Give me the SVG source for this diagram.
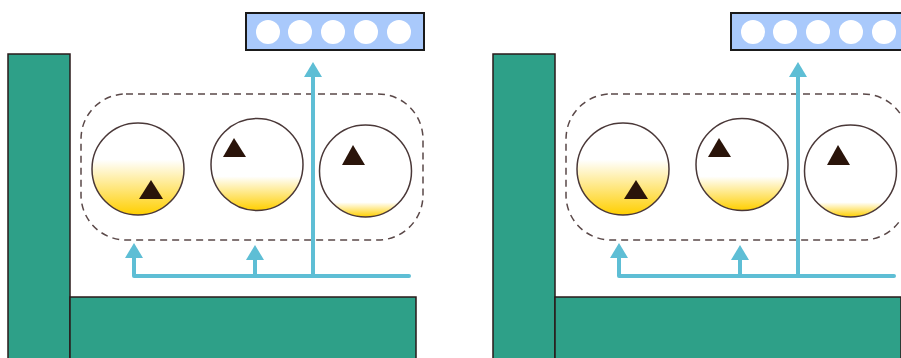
<svg xmlns="http://www.w3.org/2000/svg" width="901" height="358" viewBox="0 0 901 358">
<style>
.bar{fill:#2ea088;stroke:#2a1a1a;stroke-width:1.5}
.box{fill:#a9c9fb;stroke:#1a1a1a;stroke-width:2}
.dot{fill:#fff}
.grp{fill:none;stroke:#5a4848;stroke-width:1.5;stroke-dasharray:7,5}
.cell{stroke:#4a3838;stroke-width:1.5}
.tri{fill:#2a140a}
.wire{fill:none;stroke:#5ebed5;stroke-width:4;stroke-linecap:round;stroke-linejoin:round}
</style>
<defs>
<linearGradient id="g1" x1="0" y1="0" x2="0" y2="1"><stop offset="0.4" stop-color="#fff"/><stop offset="1" stop-color="#ffcf00"/></linearGradient>
<linearGradient id="g2" x1="0" y1="0" x2="0" y2="1"><stop offset="0.63" stop-color="#fff"/><stop offset="1" stop-color="#ffcf00"/></linearGradient>
<linearGradient id="g3" x1="0" y1="0" x2="0" y2="1"><stop offset="0.84" stop-color="#fff"/><stop offset="1" stop-color="#ffcf00"/></linearGradient>
<marker id="ah" viewBox="0 -9 15 18" refX="0" refY="0" markerWidth="15" markerHeight="18" markerUnits="userSpaceOnUse" orient="auto">
<polygon points="0,-9 15,0 0,9" fill="#5ebed5"/>
</marker>
</defs>
<g id="panel-left">
<g id="wall-left"><rect class="bar" x="8" y="54" width="62" height="310"/></g>
<g id="floor-left"><rect class="bar" x="70" y="297" width="346" height="70"/></g>
<g id="output-left">
<rect class="box" x="246" y="13" width="178" height="37"/>
<circle class="dot" cx="268" cy="32" r="12"/><circle class="dot" cx="300" cy="32" r="12"/><circle class="dot" cx="333" cy="32" r="12"/><circle class="dot" cx="366" cy="32" r="12"/><circle class="dot" cx="399" cy="32" r="12"/>
</g>
<g id="group-left"><rect class="grp" x="81" y="94" width="342" height="146" rx="45"/></g>
<g id="cell1-left"><circle class="cell" cx="138" cy="169" r="46" fill="url(#g1)"/><polygon class="tri" points="139,199 163,199 151,180"/></g>
<g id="cell2-left"><circle class="cell" cx="257" cy="164.5" r="46" fill="url(#g2)"/><polygon class="tri" points="223,157 246,157 234,138"/></g>
<g id="cell3-left"><circle class="cell" cx="365.5" cy="171" r="46" fill="url(#g3)"/><polygon class="tri" points="342,165 365,165 353,145"/></g>
<g id="connectors-left">
<path class="wire" d="M409,276 H134 V258" marker-end="url(#ah)"/>
<path class="wire" d="M255,276 V260" marker-end="url(#ah)"/>
<path class="wire" d="M313,276 V77" marker-end="url(#ah)"/>
</g>
</g>
<g id="panel-right" transform="translate(485,0)">
<g id="wall-right"><rect class="bar" x="8" y="54" width="62" height="310"/></g>
<g id="floor-right"><rect class="bar" x="70" y="297" width="346" height="70"/></g>
<g id="output-right">
<rect class="box" x="246" y="13" width="178" height="37"/>
<circle class="dot" cx="268" cy="32" r="12"/><circle class="dot" cx="300" cy="32" r="12"/><circle class="dot" cx="333" cy="32" r="12"/><circle class="dot" cx="366" cy="32" r="12"/><circle class="dot" cx="399" cy="32" r="12"/>
</g>
<g id="group-right"><rect class="grp" x="81" y="94" width="342" height="146" rx="45"/></g>
<g id="cell1-right"><circle class="cell" cx="138" cy="169" r="46" fill="url(#g1)"/><polygon class="tri" points="139,199 163,199 151,180"/></g>
<g id="cell2-right"><circle class="cell" cx="257" cy="164.5" r="46" fill="url(#g2)"/><polygon class="tri" points="223,157 246,157 234,138"/></g>
<g id="cell3-right"><circle class="cell" cx="365.5" cy="171" r="46" fill="url(#g3)"/><polygon class="tri" points="342,165 365,165 353,145"/></g>
<g id="connectors-right">
<path class="wire" d="M409,276 H134 V258" marker-end="url(#ah)"/>
<path class="wire" d="M255,276 V260" marker-end="url(#ah)"/>
<path class="wire" d="M313,276 V77" marker-end="url(#ah)"/>
</g>
</g>
</svg>
